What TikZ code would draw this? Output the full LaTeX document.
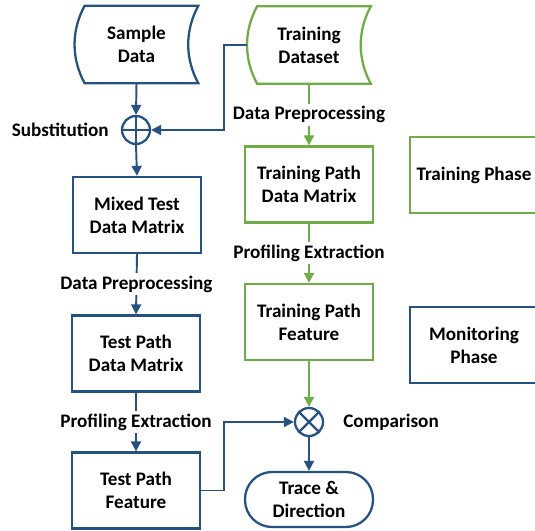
\documentclass[tikz,border=0pt]{standalone}
\usepackage{fontspec}
\setmainfont{Carlito}
\usetikzlibrary{arrows.meta}
\definecolor{flowblue}{RGB}{37,82,128}
\definecolor{flowgreen}{RGB}{112,173,71}
%% outline of a stored-data shape round an empty node
\newcommand{\storeshape}[2]{%
  \draw[#2] ([xshift=0.2cm]#1.north west) .. controls ([xshift=-0.07cm,yshift=-0.5cm]#1.north west) and ([xshift=-0.07cm,yshift=0.5cm]#1.south west) .. ([xshift=0.2cm]#1.south west)
    -- (#1.south east) .. controls ([xshift=-0.27cm,yshift=0.5cm]#1.south east) and ([xshift=-0.27cm,yshift=-0.5cm]#1.north east) .. (#1.north east) -- cycle;}
\begin{document}
\begin{tikzpicture}[x=0.02cm,y=-0.02cm,
    every node/.style={font=\fontsize{10.9}{13.1}\selectfont\bfseries,align=center},
    box/.style={draw,rectangle,line width=1.3pt,minimum width=2.56cm,minimum height=1.52cm,inner sep=0pt},
    store/.style={rectangle,minimum width=2.46cm,minimum height=1.54cm,inner sep=0pt},
    sumnode/.style={draw,circle,line width=1.3pt,minimum size=0.56cm,inner sep=0pt},
    stagetext/.style={fill=white,inner sep=1.5pt},
    flow/.style={line width=1.1pt,-{Triangle[length=0.2cm,width=0.2cm]}}]
    \clip (0,0) rectangle (535,531);
    %% Data sources
    \node[store] (sample) at (136.5,44.5) {Sample\\Data};
    \storeshape{sample}{flowblue,line width=1.3pt}
    \node[store] (train) at (309,45) {Training\\Dataset};
    \storeshape{train}{flowgreen,line width=1.3pt}
    %% Monitoring column
    \node[sumnode,flowblue] (subst) at (136,130) {};
    \draw[flowblue,line width=1.3pt] (subst.north) -- (subst.south) (subst.west) -- (subst.east);
    \node[left=0.12cm] at (subst.west) {Substitution};
    \node[box,flowblue,text=black] (mixed) at (137,215) {Mixed Test\\Data Matrix};
    \node[box,flowblue,text=black] (testmat) at (136,353.5) {Test Path\\Data Matrix};
    \node[box,flowblue,text=black] (testfeat) at (136,490.5) {Test Path\\Feature};
    %% Training column
    \node[box,flowgreen,text=black] (trmat) at (309,184.5) {Training Path\\Data Matrix};
    \node[box,flowgreen,text=black] (trfeat) at (309,322) {Training Path\\Feature};
    \node[sumnode,flowblue] (comp) at (309,422) {};
    \draw[flowblue,line width=1.3pt] (comp.north west) -- (comp.south east) (comp.south west) -- (comp.north east);
    \node[right=0.26cm] at (comp.east) {Comparison};
    \node[box,flowblue,text=black,minimum height=1.1cm,rounded corners=0.54cm] (trace) at (309,499.5) {Trace \&\\Direction};
    %% Legend
    \node[box,flowgreen,text=black] (trphase) at (474,175) {Training Phase};
    \node[box,flowblue,text=black] (monphase) at (474,345) {Monitoring\\Phase};
    %% Connectors
    \draw[flow,flowblue] (sample.south) -- (subst.north);
    \draw[flow,flowblue] (train.west) -- ++(-23,0) |- (subst.east);
    \draw[flow,flowblue] (subst.south) -- (mixed.north);
    \draw[flow,flowblue] (mixed.south) -- (testmat.north) node[midway,stagetext,text=black] {Data Preprocessing};
    \draw[flow,flowblue] (testmat.south) -- (testfeat.north) node[midway,stagetext,text=black] {Profiling Extraction};
    \draw[flow,flowblue] (testfeat.east) -- ++(23,0) |- (comp.west);
    \draw[flow,flowgreen] (train.south) -- (trmat.north) node[midway,stagetext,text=black] {Data Preprocessing};
    \draw[flow,flowgreen] (trmat.south) -- (trfeat.north) node[midway,stagetext,text=black] {Profiling Extraction};
    \draw[flow,flowgreen] (trfeat.south) -- (comp.north);
    \draw[flow,flowblue] (comp.south) -- (trace.north);
\end{tikzpicture}
\end{document}
